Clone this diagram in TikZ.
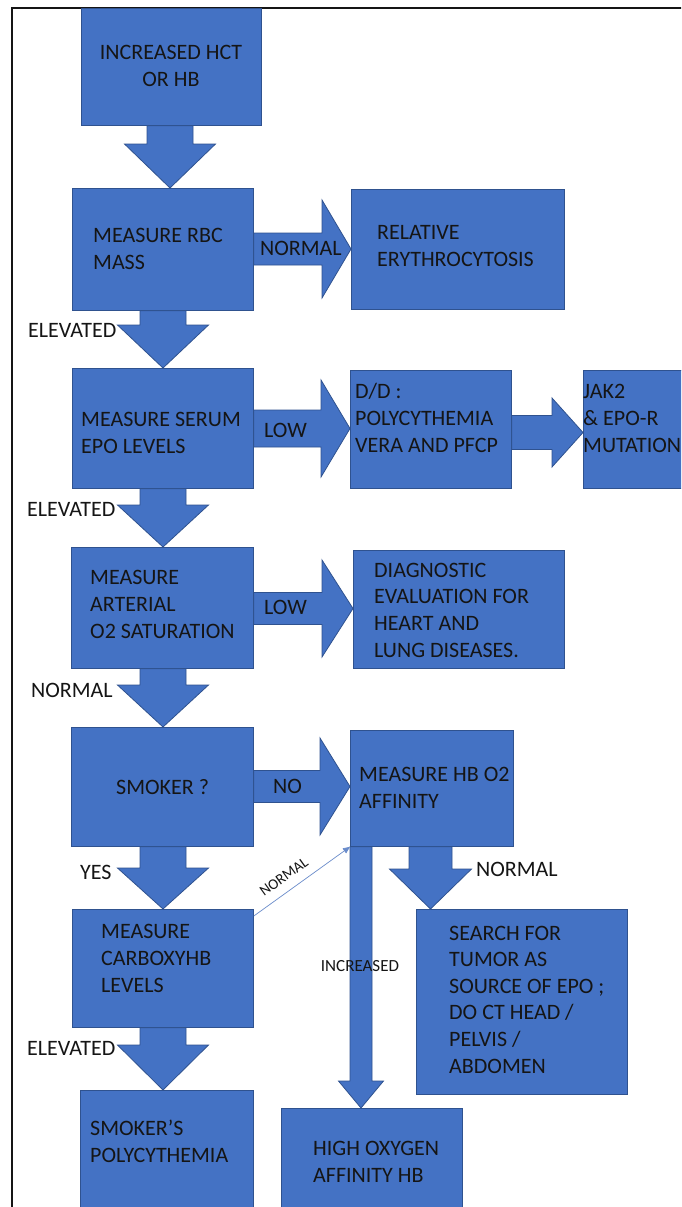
\documentclass[tikz,border=0pt]{standalone}
\usepackage{fontspec}
\setmainfont{Carlito}
\usetikzlibrary{calc,arrows.meta}
\definecolor{boxblue}{HTML}{4472C4}
\definecolor{boxline}{HTML}{2F528F}
\definecolor{ink}{HTML}{151515}
\definecolor{thinblue}{HTML}{6A8CCB}
\tikzset{
  flowbox/.style={fill=boxblue, draw=boxline, line width=0.8pt, inner sep=0pt, anchor=north west},
  boxtext/.style={font=\fontsize{22}{26.6}\selectfont, text=ink, align=left, inner sep=0pt, anchor=base west},
  lbl/.style={font=\fontsize{22}{26.6}\selectfont, text=ink, inner sep=0pt, anchor=west},
  blockarrow/.style={fill=boxblue, draw=boxline, line width=0.8pt, line join=miter},
  framestyle/.style={draw=ink, line width=1.2pt},
  thinarrow/.style={draw=thinblue, line width=0.7pt, -{Triangle[length=7pt,width=6pt]}}
}
\newcommand\vblockarrow[6]{%
  \path[blockarrow] let \p1=(#1.south), \p2=(#2.north) in
  ({(#3-#4)*1pt},\y1) -- ({(#3+#4)*1pt},\y1) -- ({(#3+#4)*1pt},{\y2+#6*1pt}) --
  ({(#3+#5)*1pt},{\y2+#6*1pt}) -- ({#3*1pt},\y2) -- ({(#3-#5)*1pt},{\y2+#6*1pt}) --
  ({(#3-#4)*1pt},{\y2+#6*1pt}) -- cycle;}
\newcommand\hblockarrow[6]{%
  \path[blockarrow] let \p1=(#1.east), \p2=(#2.west) in
  (\x1,{-(#3-#4)*1pt}) -- ({\x2-#6*1pt},{-(#3-#4)*1pt}) -- ({\x2-#6*1pt},{-(#3-#5)*1pt}) --
  (\x2,{-#3*1pt}) -- ({\x2-#6*1pt},{-(#3+#5)*1pt}) -- ({\x2-#6*1pt},{-(#3+#4)*1pt}) --
  (\x1,{-(#3+#4)*1pt}) -- cycle;}
\begin{document}
\begin{tikzpicture}[x=1pt,y=-1pt]
\useasboundingbox (0,0) rectangle (681,1207);
\clip (0,0) rectangle (681,1207);
\fill[white] (0,0) rectangle (681,1207);
\draw[framestyle] (12,1210) -- (12,8) -- (685,8);

% boxes
\node[flowbox, minimum width=180pt, minimum height=117pt] (b1) at (81,8) {};
\node[flowbox, minimum width=181pt, minimum height=122pt] (b2) at (72,188) {};
\node[flowbox, minimum width=213pt, minimum height=120pt] (rel) at (351,189) {};
\node[flowbox, minimum width=181pt, minimum height=120pt] (b3) at (72,368) {};
\node[flowbox, minimum width=161pt, minimum height=118pt] (dd) at (350,370) {};
\node[flowbox, minimum width=130pt, minimum height=118pt] (jak) at (583,370) {};
\node[flowbox, minimum width=182pt, minimum height=121pt] (b4) at (71,547) {};
\node[flowbox, minimum width=211pt, minimum height=118pt] (diag) at (353,550) {};
\node[flowbox, minimum width=182pt, minimum height=119pt] (b5) at (71,727) {};
\node[flowbox, minimum width=163pt, minimum height=116pt] (hb) at (350,730) {};
\node[flowbox, minimum width=181pt, minimum height=118pt] (b6) at (72,909) {};
\node[flowbox, minimum width=211pt, minimum height=185pt] (srch) at (416,909) {};
\node[flowbox, minimum width=173pt, minimum height=130pt] (b7) at (80,1090) {};
\node[flowbox, minimum width=181pt, minimum height=110pt] (b8) at (281,1108) {};

% block arrows (vertical)
\vblockarrow{b1}{b2}{170}{23}{45.5}{44}
\vblockarrow{b2}{b3}{163}{23}{45.5}{43}
\vblockarrow{b3}{b4}{163}{23}{45.5}{42}
\vblockarrow{b4}{b5}{163}{23}{45.5}{42}
\vblockarrow{b5}{b6}{163}{23}{45.5}{41}
\vblockarrow{b6}{b7}{163}{23}{45.5}{45}
\vblockarrow{hb}{b8}{361}{11}{22.5}{27}
\vblockarrow{hb}{srch}{430.5}{21.5}{41}{40}
% block arrows (horizontal)
\hblockarrow{b2}{rel}{249}{16}{49}{29}
\hblockarrow{b3}{dd}{428.5}{18.5}{48.5}{29}
\hblockarrow{dd}{jak}{432.5}{17}{34.5}{31}
\hblockarrow{b4}{diag}{608.5}{16}{48.5}{31}
\hblockarrow{b5}{hb}{786.5}{16}{48.5}{30}

% thin connector
\draw[thinarrow] ($(b6.north east)+(0,7)$) -- (hb.south west)
  node[pos=0.4, sloped, above=9pt, inner sep=0pt, font=\fontsize{15}{18}\selectfont, text=ink] {NORMAL};

% box texts (anchor = baseline of the last line)
\node[boxtext, align=center, anchor=base] (t1) at (171,86) {INCREASED HCT\\OR HB};
\node[boxtext] (t2) at (93,269) {MEASURE RBC\\MASS};
\node[boxtext] (trel) at (377,266) {RELATIVE\\ERYTHROCYTOSIS};
\node[boxtext] (t3) at (81,453) {MEASURE SERUM\\EPO LEVELS};
\node[boxtext] (tdd) at (355,452) {D/D :\\POLYCYTHEMIA\\VERA AND PFCP};
\node[boxtext] (tjak) at (583,452) {JAK2\\\& EPO-R\\MUTATION};
\node[boxtext] (t4) at (90,638) {MEASURE\\ARTERIAL\\O2 SATURATION};
\node[boxtext] (tdiag) at (374,657) {DIAGNOSTIC\\EVALUATION FOR\\HEART AND\\LUNG DISEASES.};
\node[boxtext] (t5) at (116,794) {SMOKER ?};
\node[boxtext] (thb) at (359,808) {MEASURE HB O2\\AFFINITY};
\node[boxtext] (t6) at (101,992) {MEASURE\\CARBOXYHB\\LEVELS};
\node[boxtext] (tsrch) at (449,1073) {SEARCH FOR\\TUMOR AS\\SOURCE OF EPO ;\\DO CT HEAD /\\PELVIS /\\ABDOMEN};
\node[boxtext] (t7) at (90,1162) {SMOKER’S\\POLYCYTHEMIA};
\node[boxtext] (t8) at (313,1182) {HIGH OXYGEN\\AFFINITY HB};

% labels
\node[lbl] (l1) at (260,248) {NORMAL};
\node[lbl] (l2) at (28,330) {ELEVATED};
\node[lbl] (l3) at (264,430) {LOW};
\node[lbl] (l4) at (27,509) {ELEVATED};
\node[lbl] (l5) at (264,607) {LOW};
\node[lbl] (l6) at (31,690) {NORMAL};
\node[lbl] (l7) at (273,786) {NO};
\node[lbl] (l8) at (80,872) {YES};
\node[lbl] (l9) at (476,869) {NORMAL};
\node[lbl] (l10) at (27,1048) {ELEVATED};
\node[lbl, font=\fontsize{17}{20}\selectfont, anchor=center] (l11) at (360,966) {INCREASED};
\end{tikzpicture}
\end{document}
